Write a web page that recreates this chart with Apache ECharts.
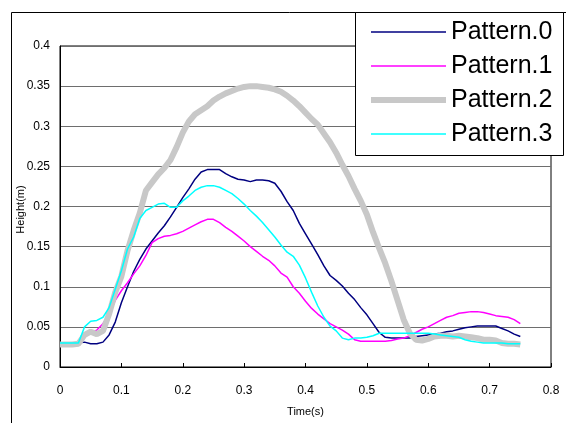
<!DOCTYPE html>
<html>
<head>
<meta charset="utf-8">
<script src="https://cdn.jsdelivr.net/npm/echarts@6/dist/echarts.min.js"></script>
<style>html,body{margin:0;padding:0;background:#fff}#c{width:566px;height:423px}</style>
</head>
<body>
<div id="c"></div>
<script>
const times = [0,0.01,0.02,0.03,0.04,0.05,0.06,0.07,0.08,0.09,0.10,0.11,0.12,0.13,0.14,0.15,0.16,0.17,0.18,0.19,0.20,0.21,0.22,0.23,0.24,0.25,0.26,0.27,0.28,0.29,0.30,0.31,0.32,0.33,0.34,0.35,0.36,0.37,0.38,0.39,0.40,0.41,0.42,0.43,0.44,0.45,0.46,0.47,0.48,0.49,0.50,0.51,0.52,0.53,0.54,0.55,0.56,0.57,0.58,0.59,0.60,0.61,0.62,0.63,0.64,0.65,0.66,0.67,0.68,0.69,0.70,0.71,0.72,0.73,0.74,0.75];
const seriesNames = ['Pattern.0','Pattern.1','Pattern.2','Pattern.3'];
const pattern0 = [0.030,0.030,0.030,0.030,0.031,0.029,0.029,0.031,0.040,0.056,0.080,0.100,0.119,0.134,0.147,0.157,0.167,0.176,0.187,0.199,0.211,0.222,0.234,0.243,0.246,0.246,0.246,0.241,0.237,0.234,0.233,0.231,0.233,0.233,0.232,0.229,0.219,0.206,0.195,0.179,0.166,0.153,0.140,0.126,0.114,0.108,0.101,0.092,0.084,0.074,0.065,0.054,0.043,0.037,0.036,0.036,0.036,0.036,0.038,0.039,0.040,0.041,0.042,0.044,0.045,0.047,0.049,0.050,0.051,0.051,0.051,0.051,0.048,0.045,0.041,0.038];
const pattern1 = [0.030,0.030,0.030,0.030,0.037,0.043,0.046,0.054,0.066,0.083,0.095,0.105,0.116,0.126,0.139,0.155,0.160,0.163,0.164,0.166,0.169,0.173,0.177,0.181,0.184,0.184,0.180,0.174,0.169,0.163,0.157,0.150,0.144,0.138,0.133,0.126,0.117,0.112,0.100,0.092,0.082,0.073,0.066,0.060,0.054,0.050,0.046,0.041,0.034,0.032,0.032,0.032,0.032,0.032,0.033,0.035,0.036,0.039,0.043,0.047,0.050,0.054,0.058,0.062,0.064,0.067,0.068,0.069,0.069,0.068,0.066,0.064,0.063,0.062,0.059,0.054];
const pattern2 = [0.028,0.028,0.028,0.029,0.040,0.044,0.041,0.045,0.066,0.093,0.113,0.145,0.170,0.192,0.220,0.230,0.240,0.248,0.258,0.274,0.292,0.306,0.315,0.320,0.325,0.332,0.337,0.341,0.344,0.347,0.349,0.350,0.350,0.349,0.348,0.346,0.343,0.338,0.332,0.325,0.317,0.309,0.302,0.291,0.280,0.267,0.252,0.238,0.222,0.207,0.190,0.168,0.148,0.129,0.107,0.083,0.059,0.042,0.034,0.033,0.035,0.038,0.039,0.039,0.038,0.039,0.038,0.037,0.036,0.034,0.034,0.033,0.030,0.029,0.029,0.028];
const pattern3 = [0.030,0.030,0.030,0.030,0.050,0.057,0.058,0.062,0.074,0.097,0.120,0.147,0.162,0.185,0.195,0.199,0.203,0.204,0.199,0.199,0.207,0.213,0.220,0.224,0.226,0.226,0.224,0.220,0.216,0.210,0.203,0.195,0.188,0.180,0.171,0.162,0.152,0.143,0.138,0.127,0.111,0.093,0.076,0.062,0.051,0.045,0.036,0.034,0.036,0.036,0.037,0.039,0.042,0.042,0.042,0.042,0.042,0.042,0.042,0.042,0.042,0.041,0.040,0.039,0.038,0.037,0.034,0.032,0.031,0.030,0.030,0.030,0.030,0.029,0.029,0.029];
const xTicks = [0,0.1,0.2,0.3,0.4,0.5,0.6,0.7,0.8];
const yTicks = [0,0.05,0.1,0.15,0.2,0.25,0.3,0.35,0.4];

const allValues = [pattern0, pattern1, pattern2, pattern3];
const colors = ['#000080','#FF00FF','#C8C8C8','#00FFFF'];
const widths = [1.5,1.5,6,1.5];

const chart = echarts.init(document.getElementById('c'), null, {renderer:'canvas'});
const font = 'Liberation Sans, Arial, sans-serif';
chart.setOption({
  backgroundColor: '#ffffff',
  animation: false,
  textStyle: {fontFamily: font},
  grid: {left: 60, top: 46, width: 491, height: 321, show: true, borderColor: '#000', borderWidth: 1,
         backgroundColor: 'transparent', containLabel: false, outerBoundsMode: 'none'},
  xAxis: {
    type: 'value', min: 0, max: 0.8, interval: 0.1,
    name: 'Time(s)', nameLocation: 'middle', nameGap: 39, nameMoveOverlap: false,
    nameTextStyle: {color: '#000', fontSize: 11, fontFamily: font},
    axisLine: {show: true, lineStyle: {color: '#000', width: 1}},
    axisTick: {show: true, inside: true, length: 4, lineStyle: {color: '#000'}},
    axisLabel: {color: '#000', fontSize: 12, margin: 18, fontFamily: font,
      formatter: v => { const t = xTicks.find(x => Math.abs(x - v) < 1e-9); return t === undefined ? '' : String(t); }},
    splitLine: {show: false}
  },
  yAxis: {
    type: 'value', min: 0, max: 0.4, interval: 0.05,
    name: 'Height(m)', nameLocation: 'middle', nameGap: 34, nameMoveOverlap: false,
    nameTextStyle: {color: '#000', fontSize: 11, fontFamily: font, padding: [0, 6, 0, 0]},
    axisLine: {show: true, lineStyle: {color: '#000', width: 1}},
    axisTick: {show: false},
    axisLabel: {color: '#000', fontSize: 12, margin: 10, fontFamily: font,
      formatter: v => { const t = yTicks.find(x => Math.abs(x - v) < 1e-9); return t === undefined ? '' : String(t); }},
    splitLine: {show: true, lineStyle: {color: '#6e6e6e', width: 1}}
  },
  legend: {
    orient: 'vertical', left: 368, top: 18,
    itemWidth: 75, itemHeight: 14, itemGap: 6,
    padding: 0,
    itemStyle: {opacity: 0, borderWidth: 0},
    textStyle: {color: '#000', fontSize: 25, lineHeight: 28, fontFamily: font},
    data: seriesNames.map((n, i) => ({name: n, lineStyle: {width: widths[i], color: colors[i]}}))
  },
  graphic: [
    {type: 'rect', z: 1, silent: true, shape: {x: 11.5, y: 12.5, width: 700, height: 600},
     style: {fill: 'none', stroke: '#000', lineWidth: 1}},
    {type: 'rect', z: 3, silent: true, shape: {x: 355.5, y: 12.5, width: 208, height: 143},
     style: {fill: '#fff', stroke: '#000', lineWidth: 1}}
  ],
  series: seriesNames.map((n, i) => ({
    name: n, type: 'line', symbol: 'none', z: 2,
    data: times.map((t, k) => [t, allValues[i][k]]),
    lineStyle: {color: colors[i], width: widths[i]},
    itemStyle: {color: colors[i]}
  }))
});
</script>
</body>
</html>
